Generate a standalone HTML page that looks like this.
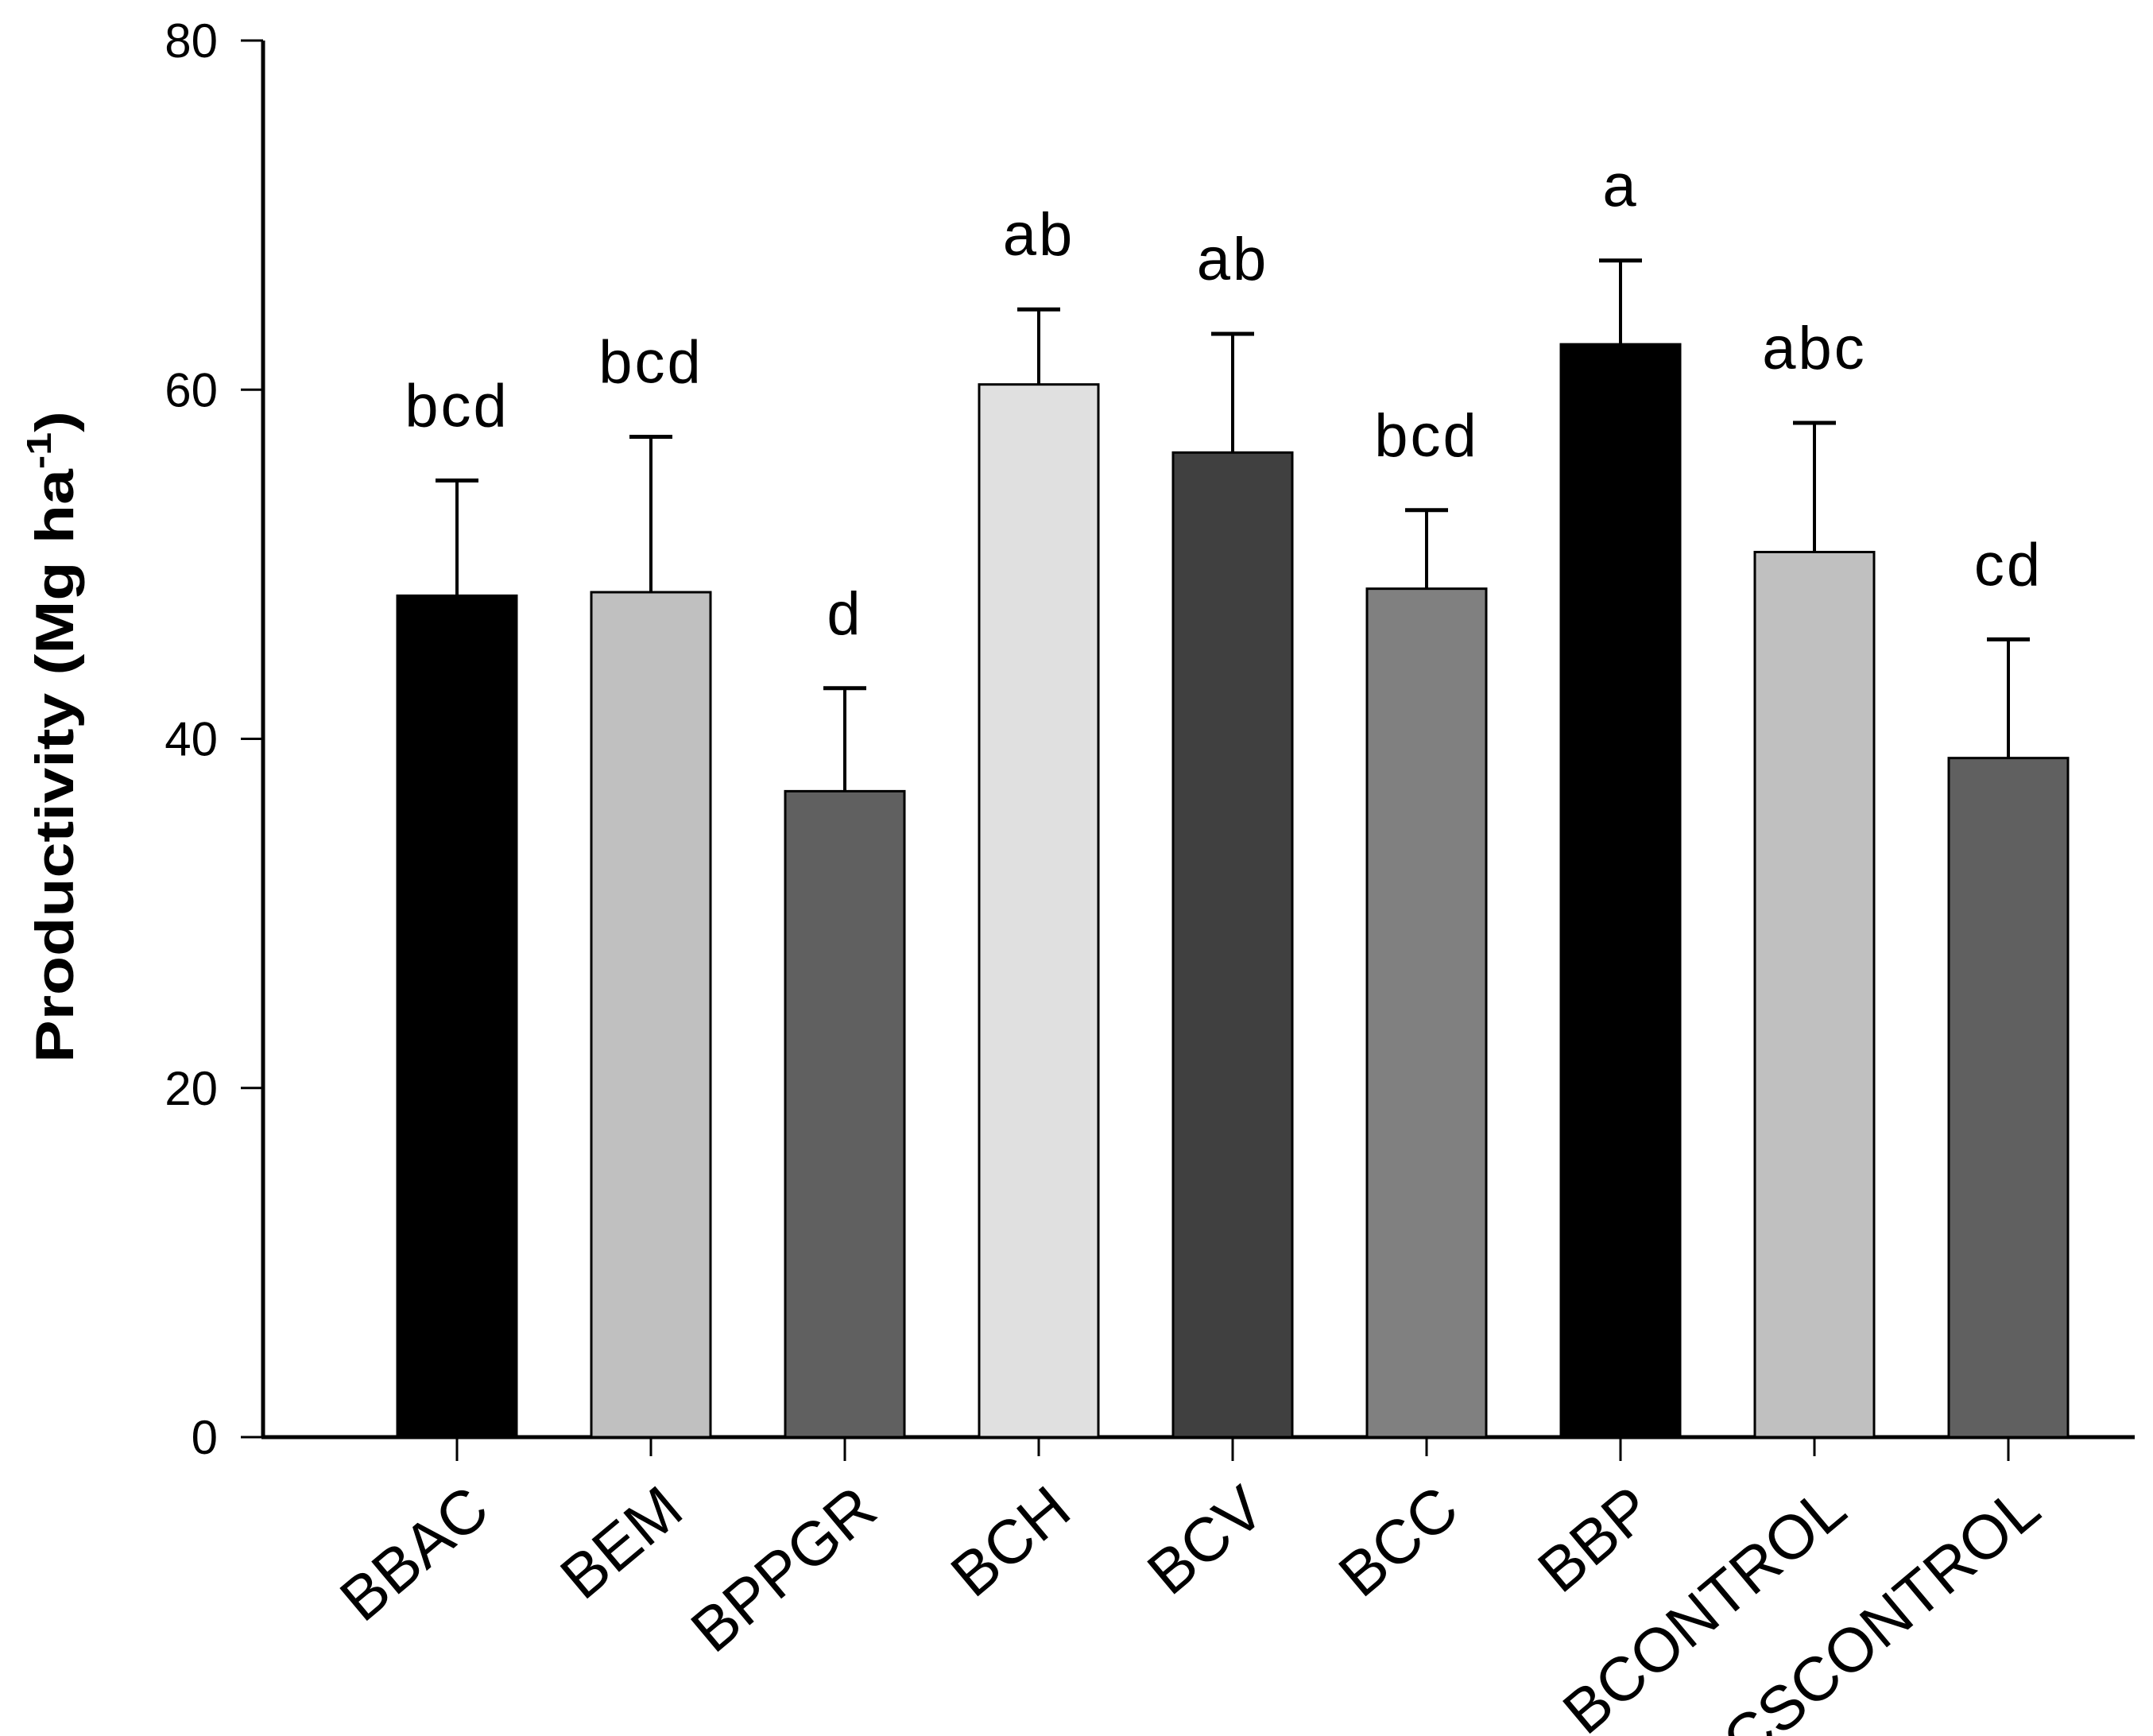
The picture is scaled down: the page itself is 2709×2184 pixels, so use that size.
<!DOCTYPE html>
<html><head><meta charset="utf-8"><style>html,body{margin:0;padding:0;background:#fff}svg{display:block}</style></head>
<body>
<svg id="chart" width="2709" height="2184" viewBox="0 0 2709 2184" xmlns="http://www.w3.org/2000/svg" font-family="Liberation Sans, Arial, sans-serif">
<g id="axes"></g><g id="bars"></g>
<text transform="translate(92,927) rotate(-90)" text-anchor="middle" font-size="68" font-weight="bold" textLength="820" lengthAdjust="spacingAndGlyphs">Productivity (Mg ha<tspan font-size="44" dy="-28">-1</tspan><tspan dy="28">)</tspan></text>
</svg>
<script>
const categories = ["BBAC","BEM","BPPGR","BCH","BCV","BCC","BBP","BCONTROL","CSCONTROL"];
const means = [48.2,48.4,37.0,60.3,56.4,48.6,62.6,50.7,38.9];
const errors = [6.6,8.9,5.9,4.3,6.8,4.5,4.8,7.4,6.8];
const letters = ["bcd","bcd","d","ab","ab","bcd","a","abc","cd"];
const fills = ["#000000","#c0c0c0","#606060","#e0e0e0","#404040","#808080","#000000","#c0c0c0","#606060"];
const yTicks = [0,20,40,60,80];

const NS="http://www.w3.org/2000/svg";
const x0=331, xEnd=2686, y0=1808, yTop=51, yMax=80;
const firstC=575, step=244.0, barW=150;
const y=v=>y0-(v/yMax)*(y0-yTop);
const xc=i=>firstC+i*step;
function mk(tag,attrs,parent,text){const e=document.createElementNS(NS,tag);for(const k in attrs)e.setAttribute(k,attrs[k]);if(text!==undefined)e.textContent=text;parent.appendChild(e);return e;}
const axes=document.getElementById('axes'), bars=document.getElementById('bars');

let el=mk('line',{x1:x0,y1:yTop,x2:x0,y2:y0,stroke:'#000','stroke-width':5},axes);


el=mk('line',{x1:x0-2,y1:y0,x2:xEnd,y2:y0,stroke:'#000','stroke-width':5},axes);



yTicks.forEach(t=>{
  const tk=mk('line',{x1:x0-28,y1:y(t),x2:x0,y2:y(t),stroke:'#000','stroke-width':3},axes);
  
  
  const lb=mk('text',{x:274,y:y(t)+21,'text-anchor':'end','font-size':60,fill:'#000'},axes,String(t));
  
  
});

categories.forEach((c,i)=>{
  const cx=xc(i), m=means[i], e=errors[i];
  const eb=mk('line',{x1:cx,y1:y(m),x2:cx,y2:y(m+e),stroke:'#000','stroke-width':4},bars);
  
  
  const cap=mk('line',{x1:cx-27,y1:y(m+e),x2:cx+27,y2:y(m+e),stroke:'#000','stroke-width':5},bars);
  
  
  const r=mk('rect',{x:cx-barW/2,y:y(m),width:barW,height:y0-y(m),fill:fills[i],stroke:'#000','stroke-width':3},bars);
  
  
  const tk=mk('line',{x1:cx,y1:y0,x2:cx,y2:y0+(i%2?24:30),stroke:'#000','stroke-width':3},bars);
  
  
  const lt=mk('text',{x:cx,y:y(m+e)-68,'text-anchor':'middle','font-size':76,'letter-spacing':3,fill:'#000'},bars,letters[i]);
  
  
  const xl=mk('text',{x:0,y:57,'text-anchor':'end','font-size':78,fill:'#000',transform:`translate(${cx+8},${y0+55}) rotate(-40)`},bars,c);
  
  
});
</script>
</body></html>
